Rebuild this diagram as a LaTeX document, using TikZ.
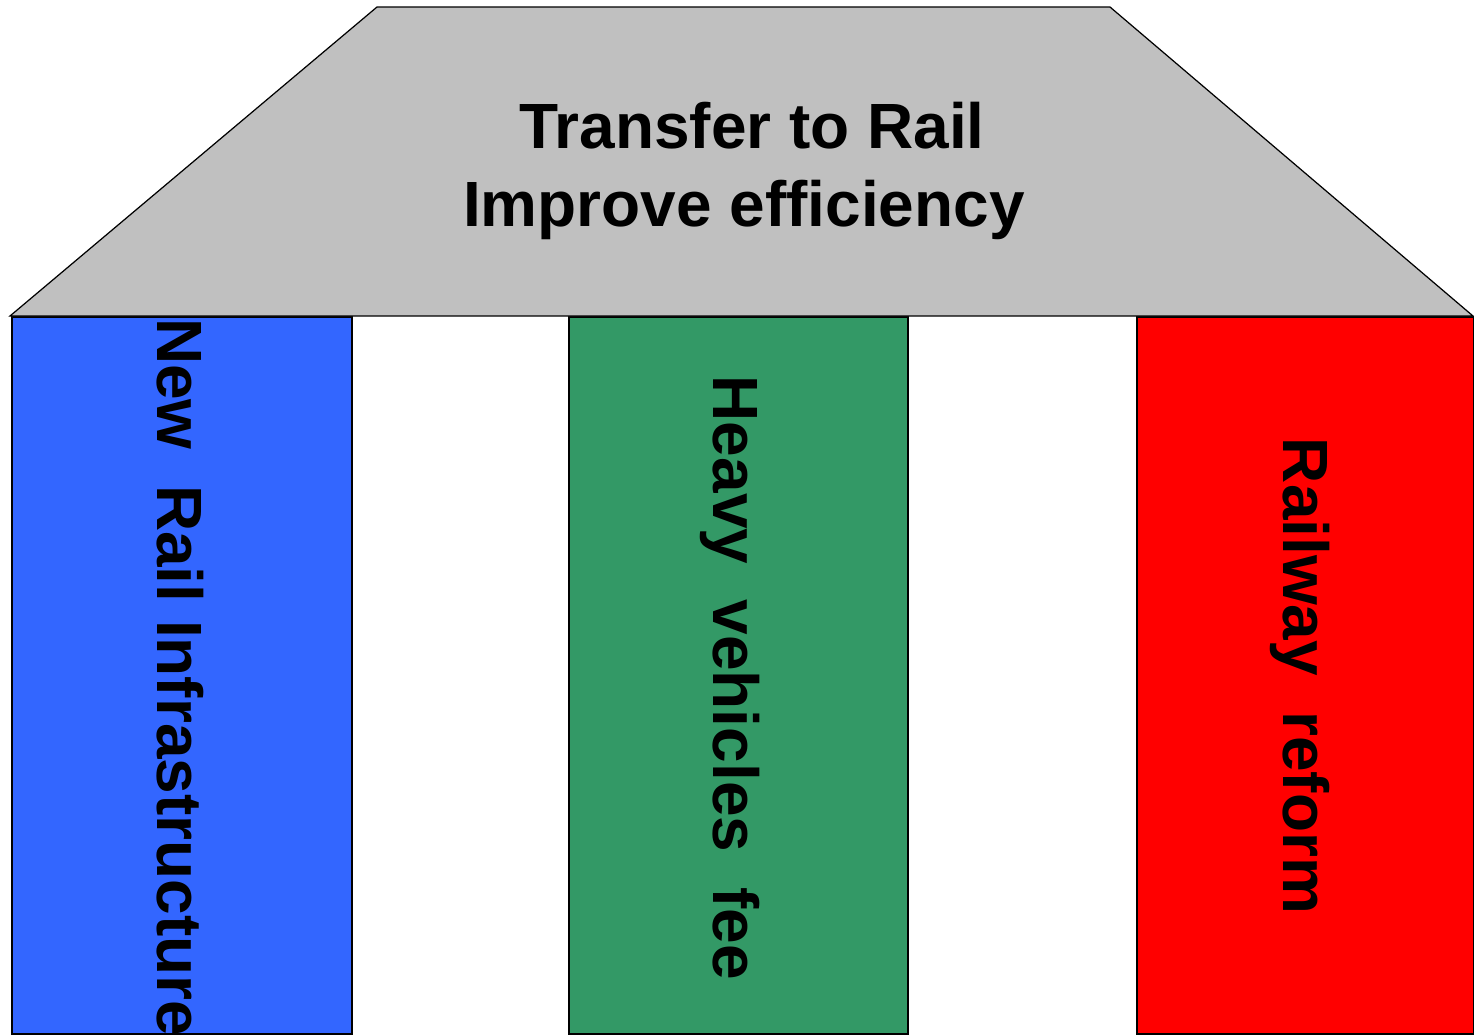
\documentclass[tikz,border=0pt]{standalone}
\usepackage{fontspec}
\setmainfont{Liberation Sans}
\definecolor{roofgray}{HTML}{C0C0C0}
\definecolor{pillarblue}{HTML}{3366FF}
\definecolor{pillargreen}{HTML}{339966}
\definecolor{pillarred}{HTML}{FF0000}
\begin{document}
\begin{tikzpicture}[x=0.02cm, y=-0.02cm,
    pillar/.style={draw=black, line width=0.7pt},
    lbl/.style={font=\fontsize{36.4}{44.4}\selectfont\bfseries, text=black, inner sep=0pt}]
  \useasboundingbox (0,0) rectangle (1474,1035);

  \filldraw[pillar, fill=pillarblue]  (12,317)   rectangle (352,1034);
  \filldraw[pillar, fill=pillargreen] (569,317)  rectangle (908,1034);
  \filldraw[pillar, fill=pillarred]   (1137,317) rectangle (1474,1034);
  \filldraw[pillar, fill=roofgray] (10,316) -- (377,7) -- (1110,7) -- (1473,316) -- cycle;

  \node[lbl, align=center] (goal) at (748,171)
    {\hspace*{0.16cm}Transfer to Rail\\Improve efficiency\hspace*{0.16cm}};
  \node[lbl, rotate=-90, anchor=base] (infra) at (157,677) {New\ \ Rail Infrastructure};
  \node[lbl, rotate=-90, anchor=base] (fee) at (713,678) {Heavy\ \ vehicles\ \ fee};
  \node[lbl, rotate=-90, anchor=base] (reform) at (1283,676) {Railway\ \ reform};
\end{tikzpicture}
\end{document}
